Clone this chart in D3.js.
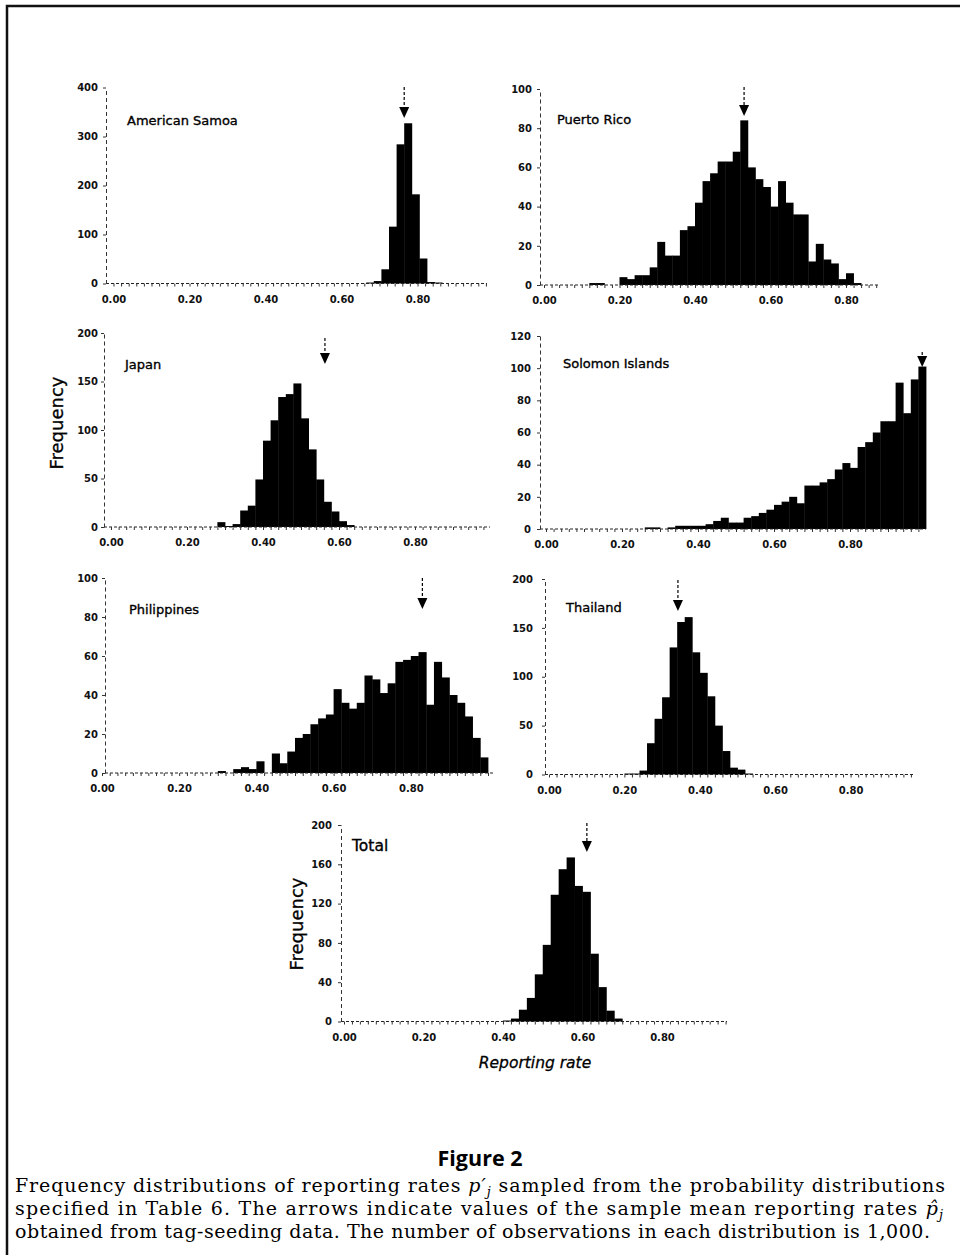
<!DOCTYPE html>
<html>
<head>
<meta charset="utf-8">
<script src="https://cdnjs.cloudflare.com/ajax/libs/d3/7.8.5/d3.min.js"></script>
<style>
  body { margin: 0; background: #fff; }
  svg { display: block; }
</style>
</head>
<body>
<div id="svgcontainer"></div>
<script>

var width = 960,
    height = 1255,
    svg = d3.select("div#svgcontainer")
            .append("svg")
            .attr("width", width)
            .attr("height", height);

// histogram data (bins of 0.02, counts per bin)
var binWidth = 0.02;

var regions = ["American Samoa", "Puerto Rico", "Japan", "Solomon Islands", "Philippines", "Thailand", "Total"];

var firstBins = [0.665, 0.12, 0.28, 0.26, 0.30, 0.20, 0.40];

var samoaCounts = [2, 5, 29, 116, 284, 327, 182, 51, 3, 2];
var puertoRicoCounts = [1, 1, 0, 0, 4, 3, 5, 5, 9, 22, 15, 15, 28, 30, 42, 53, 57, 63, 63, 68, 84, 60, 54, 50, 40, 53, 42, 36, 36, 12, 21, 13, 11, 3, 6, 1];
var japanCounts = [5, 1, 3, 17, 22, 49, 89, 110, 134, 137, 148, 112, 80, 49, 26, 16, 6, 2];
var solomonCounts = [1, 1, 0, 1, 2, 2, 2, 2, 3, 5, 7, 4, 4, 7, 8, 10, 12, 15, 17, 20, 16, 27, 27, 29, 31, 37, 41, 38, 51, 54, 60, 67, 67, 91, 72, 93, 101];
var philippinesCounts = [1, 0, 2, 3, 2, 6, 0, 10, 5, 11, 18, 20, 25, 28, 30, 43, 36, 33, 36, 50, 48, 41, 46, 57, 58, 60, 62, 35, 57, 49, 40, 36, 29, 18, 8];
var thailandCounts = [1, 1, 4, 32, 57, 79, 130, 156, 161, 125, 104, 80, 50, 24, 7, 5, 1];
var totalCounts = [1, 3, 12, 24, 48, 78, 129, 155, 167, 138, 132, 69, 35, 11, 3];

var counts = [samoaCounts, puertoRicoCounts, japanCounts, solomonCounts, philippinesCounts, thailandCounts, totalCounts];

// sample mean reporting rates (arrows)
var meanRates = [0.765, 0.53, 0.563, 0.99, 0.83, 0.342, 0.611];

var yTickValues = [
  [0, 100, 200, 300, 400],
  [0, 20, 40, 60, 80, 100],
  [0, 50, 100, 150, 200],
  [0, 20, 40, 60, 80, 100, 120],
  [0, 20, 40, 60, 80, 100],
  [0, 50, 100, 150, 200],
  [0, 40, 80, 120, 160, 200]
];
var xTickValues = [0, 0.2, 0.4, 0.6, 0.8];

// pixel placement of each panel
var layout = [
  {axisX: 106, x0: 113.5, x1: 493.5, xEnd: 487, base: 283.5, top: 87.5, labelX: 98, titleX: 127, titleY: 125, titleSize: 13, arrowTop: 87, arrowTip: 118},
  {axisX: 540, x0: 544, x1: 921.5, xEnd: 880, base: 285, top: 89, labelX: 532, titleX: 557, titleY: 124, titleSize: 13, arrowTop: 87, arrowTip: 116},
  {axisX: 104, x0: 111, x1: 491, xEnd: 490, base: 527, top: 333, labelX: 98, titleX: 125, titleY: 369, titleSize: 13, arrowTop: 338, arrowTip: 364},
  {axisX: 540, x0: 546, x1: 926, xEnd: 926, base: 529, top: 336, labelX: 531, titleX: 563, titleY: 368, titleSize: 13, arrowTop: 352, arrowTip: 367},
  {axisX: 105, x0: 102, x1: 488, xEnd: 493, base: 773, top: 578, labelX: 98, titleX: 129, titleY: 614, titleSize: 13, arrowTop: 578, arrowTip: 609},
  {axisX: 545, x0: 549, x1: 926, xEnd: 915, base: 774.5, top: 579, labelX: 533, titleX: 566, titleY: 612, titleSize: 13, arrowTop: 580, arrowTip: 611},
  {axisX: 341, x0: 344, x1: 741.5, xEnd: 727, base: 1021.5, top: 825, labelX: 332, titleX: 352, titleY: 851, titleSize: 15.5, arrowTop: 823, arrowTip: 852}
];

// frame
svg.append("path")
   .attr("d", "M7,1255 V6 H960")
   .attr("fill", "none")
   .attr("stroke", "#111")
   .attr("stroke-width", 2.5);

regions.forEach(function(name, i){
  var L = layout[i],
      ticks = yTickValues[i],
      yMax = ticks[ticks.length - 1];

  var x = d3.scaleLinear().domain([0, 1]).range([L.x0, L.x1]);
  var y = d3.scaleLinear().domain([0, yMax]).range([L.base, L.top]);

  var bins = counts[i].map(function(c, k){
    return {from: firstBins[i] + k * binWidth, n: c};
  }).filter(function(d){ return d.n > 0; });

  var g = svg.append("g").attr("class", "panel");

  g.selectAll("rect.bar")
   .data(bins)
   .enter().append("rect")
   .attr("class", "bar")
   .attr("x", function(d){ return x(d.from); })
   .attr("width", function(d){ return x(d.from + binWidth) - x(d.from) + 0.4; })
   .attr("y", function(d){ return y(d.n); })
   .attr("height", function(d){ return L.base - y(d.n); })
   .style("fill", "#000");

  // baseline, dotted like the print
  g.append("line")
   .attr("x1", L.axisX).attr("x2", L.xEnd)
   .attr("y1", L.base).attr("y2", L.base)
   .style("stroke", "#222")
   .style("stroke-width", 1)
   .style("stroke-dasharray", "3,2");

  // one small tick per bin
  var minor = d3.range(0, x.invert(L.xEnd), binWidth);
  g.append("g")
   .attr("transform", "translate(0," + L.base + ")")
   .call(d3.axisBottom(x).tickValues(minor).tickFormat("").tickSize(3).tickSizeOuter(0))
   .call(function(a){ a.select(".domain").remove(); })
   .selectAll("line").style("stroke", "#333");

  var xAxis = g.append("g")
   .attr("class", "axis axis--x")
   .attr("transform", "translate(0," + L.base + ")")
   .call(d3.axisBottom(x).tickValues(xTickValues).tickFormat(d3.format(".2f")).tickSize(0).tickPadding(12));
  xAxis.select(".domain").remove();
  xAxis.selectAll("text")
   .style("font-family", "DejaVu Sans")
   .style("font-weight", "bold")
   .style("font-size", "10px")
   .style("fill", "#111");

  var yAxis = g.append("g")
   .attr("class", "axis axis--y")
   .attr("transform", "translate(" + L.axisX + ",0)")
   .call(d3.axisLeft(y).tickValues(ticks).tickSize(3).tickSizeOuter(0).tickPadding(L.axisX - L.labelX - 3));
  yAxis.select(".domain")
   .style("stroke", "#333")
   .style("stroke-dasharray", "4,3");
  yAxis.selectAll("line").style("stroke", "#333");
  yAxis.selectAll("text")
   .style("font-family", "DejaVu Sans")
   .style("font-weight", "bold")
   .style("font-size", "10px")
   .style("fill", "#111");

  g.append("text")
   .attr("x", L.titleX)
   .attr("y", L.titleY)
   .style("font-family", "DejaVu Sans")
   .style("font-size", L.titleSize + "px")
   .style("fill", "#000")
   .style("stroke", "#000")
   .style("stroke-width", 0.35)
   .text(name);

  // arrow at the sample mean
  var ax = x(meanRates[i]);
  g.append("line")
   .attr("x1", ax).attr("x2", ax)
   .attr("y1", L.arrowTop).attr("y2", L.arrowTip - 9)
   .style("stroke", "#000")
   .style("stroke-width", 1.2)
   .style("stroke-dasharray", "3,2");
  g.append("path")
   .attr("d", "M" + (ax - 5) + "," + (L.arrowTip - 11) + "L" + (ax + 5) + "," + (L.arrowTip - 11) + "L" + ax + "," + L.arrowTip + "Z")
   .style("fill", "#000");
});

// axis titles
svg.append("text")
   .attr("transform", "translate(63,423) rotate(-90)")
   .attr("text-anchor", "middle")
   .style("font-family", "DejaVu Sans")
   .style("font-size", "18px")
   .style("stroke", "#000")
   .style("stroke-width", 0.3)
   .text("Frequency");
svg.append("text")
   .attr("transform", "translate(303,924) rotate(-90)")
   .attr("text-anchor", "middle")
   .style("font-family", "DejaVu Sans")
   .style("font-size", "18px")
   .style("stroke", "#000")
   .style("stroke-width", 0.3)
   .text("Frequency");
svg.append("text")
   .attr("x", 535)
   .attr("y", 1068)
   .attr("text-anchor", "middle")
   .style("font-family", "DejaVu Sans")
   .style("font-style", "italic")
   .style("font-size", "15.5px")
   .style("stroke", "#000")
   .style("stroke-width", 0.3)
   .text("Reporting rate");

// caption
svg.append("text")
   .attr("x", 480)
   .attr("y", 1166)
   .attr("text-anchor", "middle")
   .style("font-family", "Open Sans")
   .style("font-weight", "bold")
   .style("font-size", "21.5px")
   .text("Figure 2");

var cap = svg.append("g")
   .style("font-family", "DejaVu Serif")
   .style("font-size", "16px")
   .style("fill", "#000");

var line1 = cap.append("text").attr("x", 15).attr("y", 1192).attr("data-w", 930);
line1.append("tspan").text("Frequency distributions of reporting rates  ");
line1.append("tspan").style("font-style", "italic").text("p′");
line1.append("tspan").attr("dy", 4).style("font-size", "0.68em").style("font-style", "italic").text("j");
line1.append("tspan").attr("dy", -4).text("  sampled from the probability distributions");

var line2 = cap.append("text").attr("x", 15).attr("y", 1215).attr("data-w", 928);
line2.append("tspan").text("specified in Table 6. The arrows indicate values of the sample mean reporting rates  ");
line2.append("tspan").style("font-style", "italic").text("p\u0302");
line2.append("tspan").attr("dy", 4).style("font-size", "0.68em").style("font-style", "italic").text("j");

cap.append("text").attr("x", 15).attr("y", 1238).attr("data-w", 915)
   .text("obtained from tag-seeding data. The number of observations in each distribution is 1,000.");

// size each caption line to its printed width, then justify
cap.selectAll("text").each(function(){
  var t = d3.select(this),
      target = +t.attr("data-w"),
      natural = this.getComputedTextLength(),
      size = Math.min(19, 16 * target / natural);
  t.style("font-size", size + "px")
   .attr("textLength", target)
   .attr("lengthAdjust", "spacing");
});

</script>
</body>
</html>
